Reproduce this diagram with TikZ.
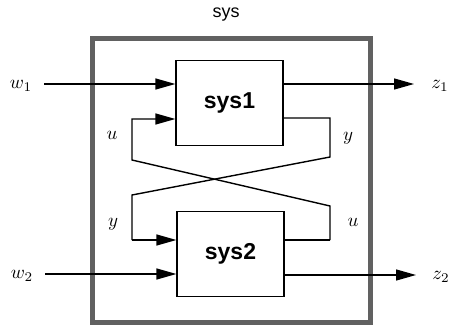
\documentclass[tikz,border=0pt]{standalone}
\usepackage{fontspec}
\setsansfont{Liberation Sans}
\usetikzlibrary{arrows.meta}
\begin{document}
\begin{tikzpicture}[x=1pt,y=-1pt,
  sysbox/.style={draw,line width=1.2pt,minimum width=107pt,minimum height=85pt,inner sep=0pt,font=\sffamily\bfseries\fontsize{23}{23}\selectfont},
  sig/.style={line width=1.4pt,-{Triangle[length=20pt,width=11pt]}},
  wire/.style={line width=1.4pt},
  lab/.style={inner sep=0pt,scale=1.9}]
\useasboundingbox (0,0) rectangle (452,327);
\node[draw=black!62,line width=5pt,minimum width=278pt,minimum height=284pt,inner sep=0pt] (outer) at (231,180) {};
\node[font=\sffamily\fontsize{18}{18}\selectfont] (title) at (226,15) {sys};
\node[sysbox] (s1) at (229.5,103) {sys1};
\node[sysbox] (s2) at (230.5,254) {sys2};
\node[lab] (w1) at (21,86) {$w_1$};
\node[lab] (z1) at (440,86) {$z_1$};
\node[lab] (w2) at (22,276) {$w_2$};
\node[lab] (z2) at (441,277) {$z_2$};
\coordinate (w1s) at (44,84);
\coordinate (z1e) at (414,84);
\coordinate (w2s) at (45,274);
\coordinate (z2e) at (416,275);
\draw[sig] (w1s) -- (s1.west |- w1s);
\draw[sig] (s1.east |- z1e) -- (z1e);
\draw[sig] (w2s) -- (s2.west |- w2s);
\draw[sig] (s2.east |- z2e) -- (z2e);
% feedback
\coordinate (a1) at (132,119);
\coordinate (a2) at (132,160);
\coordinate (b1) at (330,118);
\coordinate (b2) at (330,157);
\coordinate (c1) at (132,240);
\coordinate (c2) at (132,195);
\coordinate (d1) at (330,240);
\coordinate (d2) at (330,206);
\draw[sig] (d1) -- (d2) -- (a2) -- (a1) -- (s1.west |- a1);
\draw[wire] (s1.east |- b1) -- (b1) -- (b2) -- (c2) -- (c1);
\draw[sig] (c1) -- (s2.west |- c1);
\draw[wire] (s2.east |- d1) -- (d1);
\node[lab] (u1) at (112,135) {$u$};
\node[lab] (y1) at (348,138) {$y$};
\node[lab] (y2) at (113,224) {$y$};
\node[lab] (u2) at (353,222) {$u$};
\end{tikzpicture}
\end{document}
